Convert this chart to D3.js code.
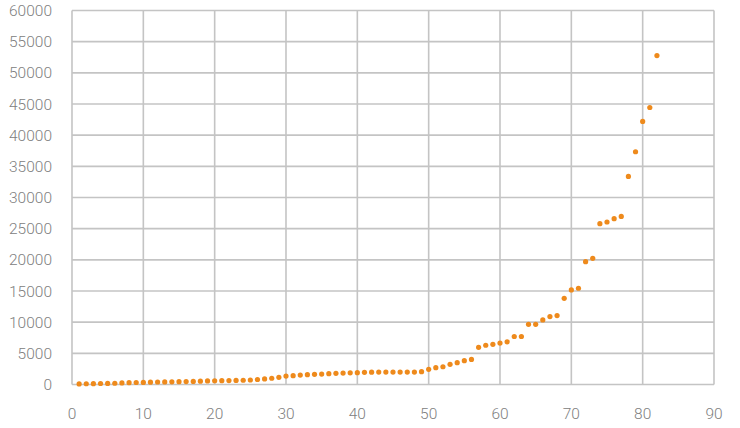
<!DOCTYPE html>
<html><head><meta charset="utf-8">
<script src="https://cdn.jsdelivr.net/npm/d3@7"></script>
<style>body{margin:0;background:#fff}svg{display:block}</style>
</head><body>
<script>
const xIndex = [1,2,3,4,5,6,7,8,9,10,11,12,13,14,15,16,17,18,19,20,21,22,23,24,25,26,27,28,29,30,31,32,33,34,35,36,37,38,39,40,41,42,43,44,45,46,47,48,49,50,51,52,53,54,55,56,57,58,59,60,61,62,63,64,65,66,67,68,69,70,71,72,73,74,75,76,77,78,79,80,81,82];
const values = [100,120,140,160,180,200,260,300,320,340,380,400,420,430,450,470,500,540,580,600,620,630,650,680,720,800,900,1000,1150,1350,1420,1520,1580,1630,1680,1740,1790,1830,1870,1900,1950,1980,2000,2000,2000,2000,2000,2000,2050,2430,2700,2850,3230,3500,3820,4030,5960,6300,6450,6650,6850,7700,7700,9660,9660,10360,10900,11060,13830,15170,15440,19710,20240,25800,26070,26600,26970,33380,37340,42200,44440,52770];
const xTicks = [0,10,20,30,40,50,60,70,80,90];
const yTicks = [0,5000,10000,15000,20000,25000,30000,35000,40000,45000,50000,55000,60000];

const W = 740, H = 428;
const m = {left:72, right:26, top:10.5, bottom:43.5};
const svg = d3.select("body").append("svg").attr("width",W).attr("height",H);
const x = d3.scaleLinear().domain([0,90]).range([m.left, W-m.right]);
const y = d3.scaleLinear().domain([0,60000]).range([H-m.bottom, m.top]);

const grid = "#c4c4c4";
svg.append("g").selectAll("line").data(yTicks).join("line")
  .attr("x1",x(0)).attr("x2",x(90)).attr("y1",d=>y(d)).attr("y2",d=>y(d))
  .attr("stroke",grid).attr("stroke-width",1.6);
svg.append("g").selectAll("line").data(xTicks).join("line")
  .attr("y1",y(0)).attr("y2",y(60000)).attr("x1",d=>x(d)).attr("x2",d=>x(d))
  .attr("stroke",grid).attr("stroke-width",1.6);

const font = "Roboto, 'Noto Sans', sans-serif";
svg.append("g").selectAll("text").data(yTicks).join("text")
  .attr("x",52).attr("y",d=>y(d)).attr("dy","0.36em").attr("text-anchor","end")
  .attr("font-family",font).attr("font-size",15.5).attr("font-weight",300).attr("fill","#808080").text(d=>d);
svg.append("g").selectAll("text").data(xTicks).join("text")
  .attr("x",d=>x(d)).attr("y",y(0)+28.5).attr("dy","0.36em").attr("text-anchor","middle")
  .attr("font-family",font).attr("font-size",15.5).attr("font-weight",300).attr("fill","#808080").text(d=>d);

svg.append("g").selectAll("circle").data(values).join("circle")
  .attr("cx",(d,i)=>x(xIndex[i])).attr("cy",d=>y(d)).attr("r",2.6)
  .attr("fill","#ee8a1c");
</script>
</body></html>
